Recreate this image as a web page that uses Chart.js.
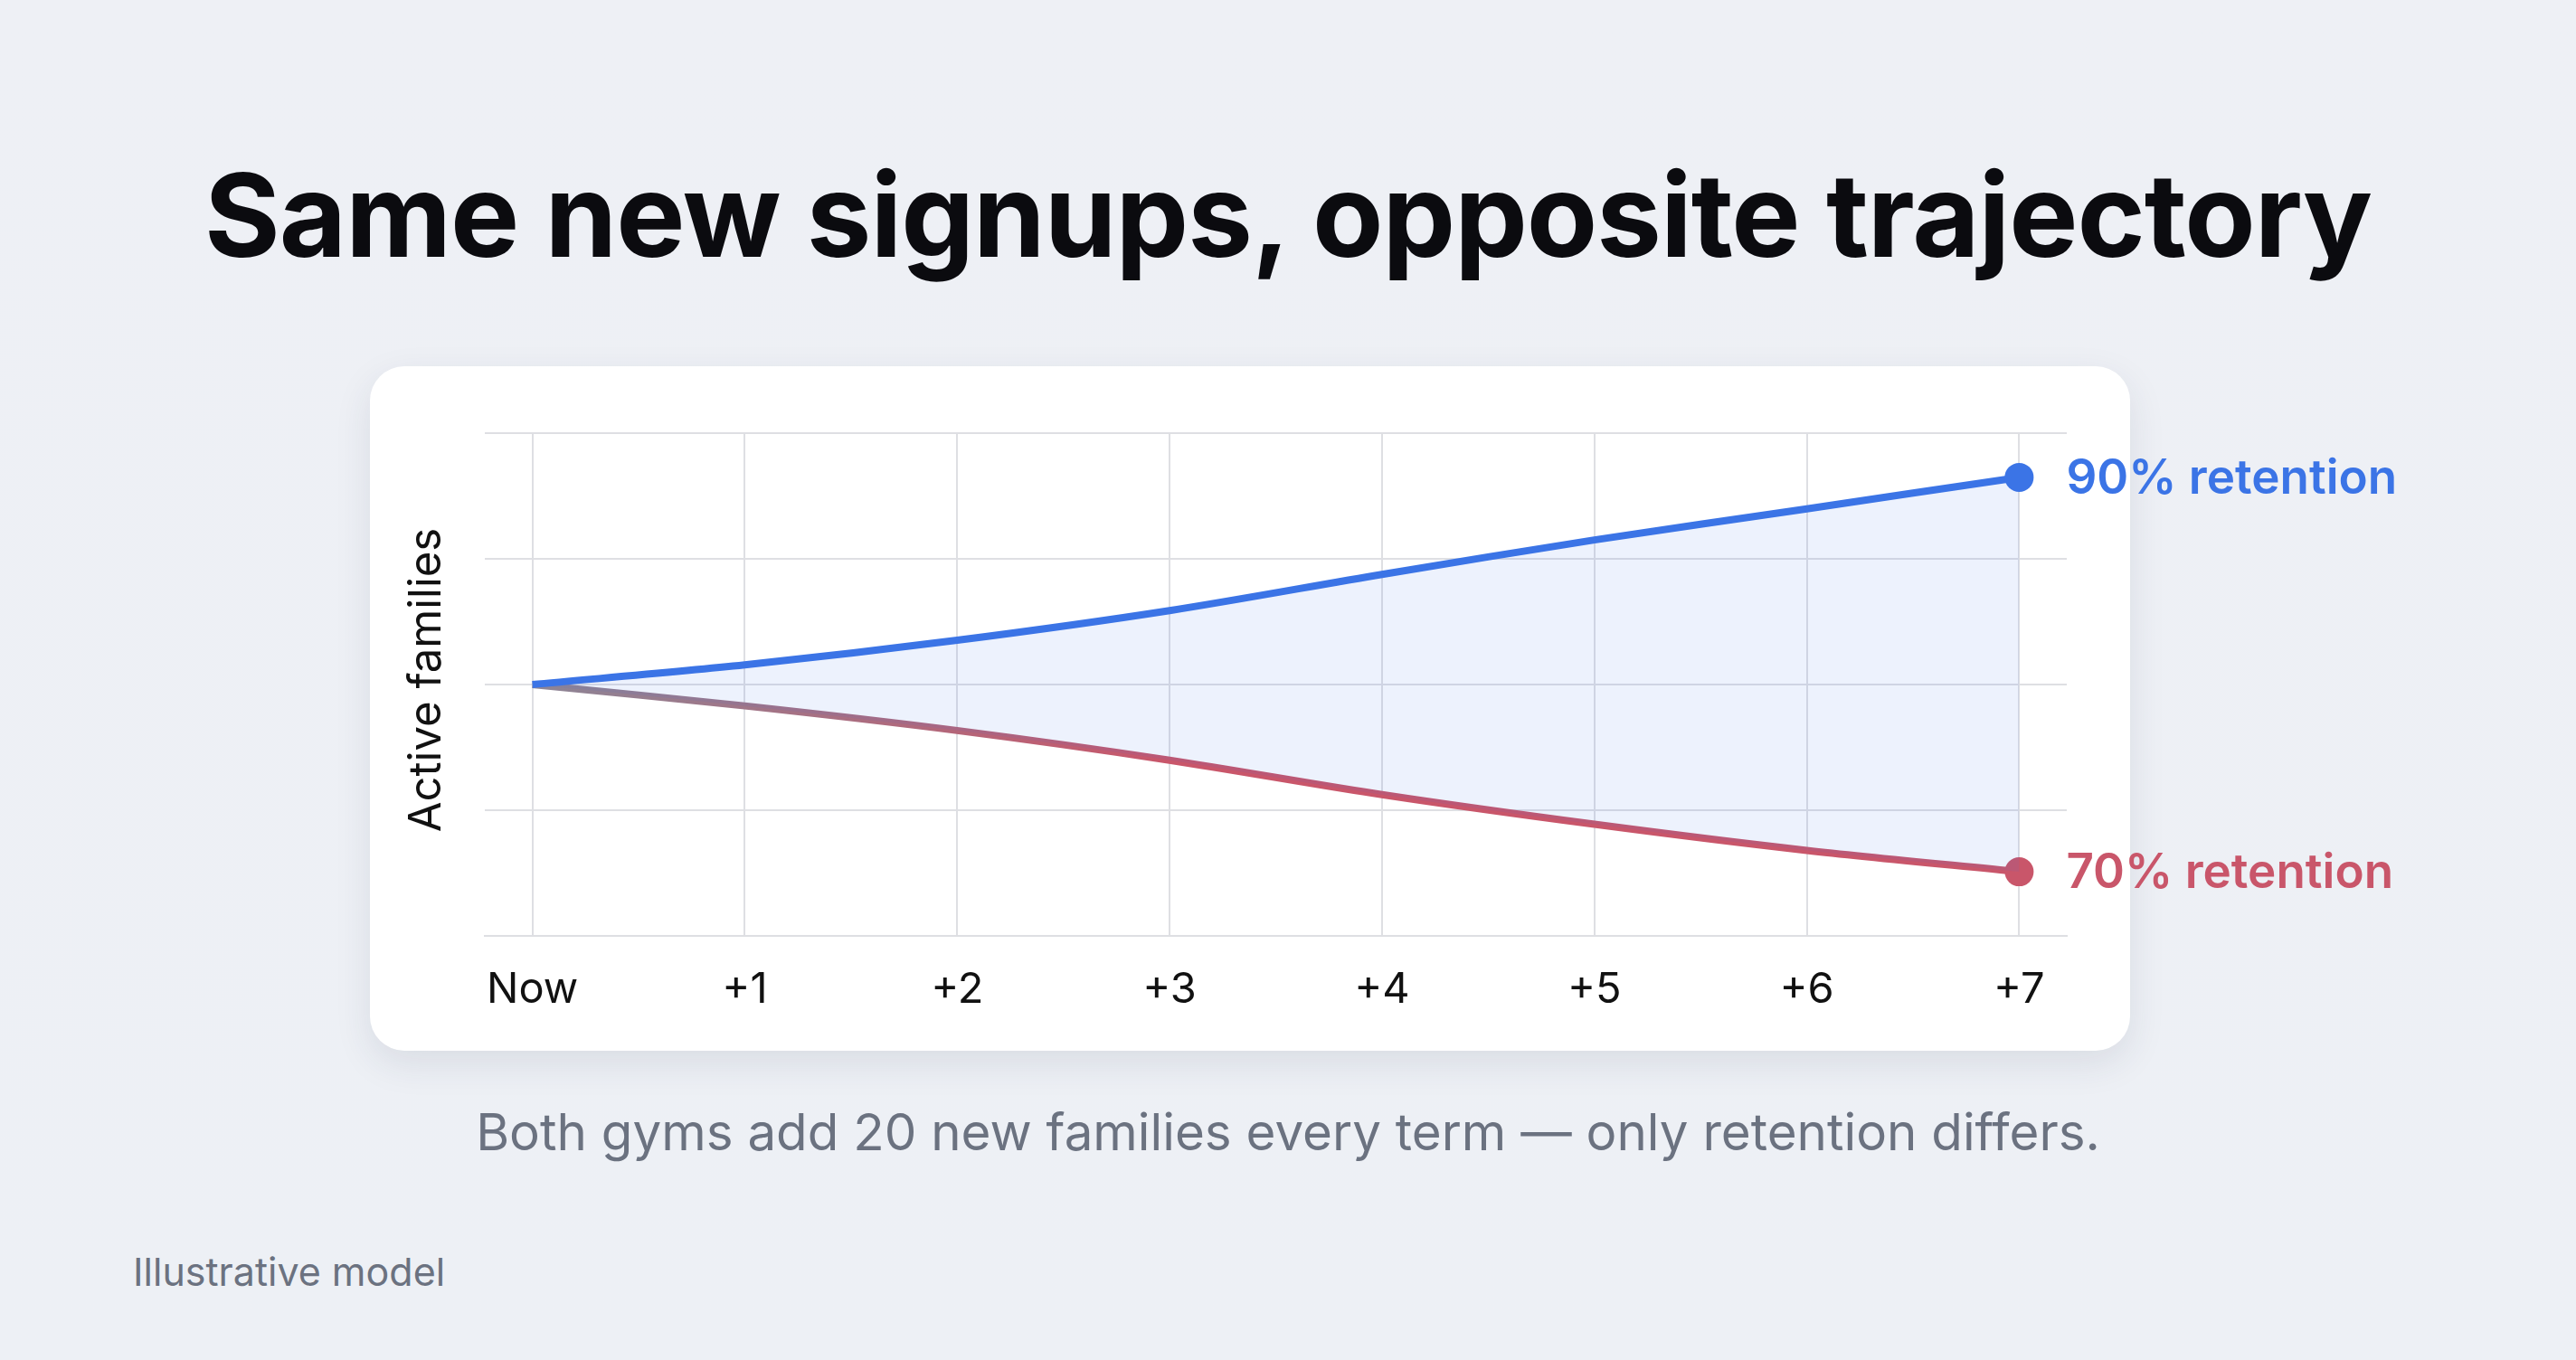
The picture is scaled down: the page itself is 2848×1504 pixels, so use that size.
<!DOCTYPE html>
<html><head><meta charset="utf-8">
<script src="https://cdn.jsdelivr.net/npm/chart.js@4/dist/chart.umd.min.js"></script>
<style>
html,body{margin:0;padding:0;width:2848px;height:1504px;overflow:hidden;font-family:Inter,"Noto Sans",sans-serif;}
body{background:linear-gradient(180deg,#eef0f5 0%,#edf0f5 100%);position:relative;}
#title{position:absolute;top:160px;left:0;width:2848px;text-align:center;font-size:128px;font-weight:700;color:#0b0b0f;letter-spacing:-1px;}
#card{position:absolute;left:409px;top:405px;width:1946px;height:757px;background:#fff;border-radius:38px;box-shadow:0 14px 40px rgba(40,50,80,0.10);}
#ytitle{position:absolute;left:469px;top:752px;transform:translate(-50%,-50%) rotate(-90deg);font-size:49px;color:#111;white-space:nowrap;}
#sub{position:absolute;top:1217px;left:0;width:2848px;text-align:center;font-size:56.5px;color:#6b7280;}
#foot{position:absolute;left:147px;top:1380px;font-size:43px;color:#6b7280;}
#c{position:absolute;left:0;top:0;}
</style></head><body>
<div id="title">Same new signups, opposite trajectory</div>
<div id="card"></div>
<div id="ytitle">Active families</div>
<div id="sub">Both gyms add 20 new families every term — only retention differs.</div>
<div id="foot">Illustrative model</div>
<canvas id="c" width="2848" height="1504"></canvas>
<script>
const xLabels = ["Now","+1","+2","+3","+4","+5","+6","+7"];
const retention90 = [100,107.8,117.6,129.4,143.8,157.5,169.9,182.4];
const retention70 = [100,91.5,81.7,69.9,56.2,44.4,34.0,25.5];
const seriesNames = ["90% retention","70% retention"];
const BLUE="#3b74e6", RED="#c9566a";
const pts = a => a.map((v,i)=>({x:i,y:v}));
const lastOnly = xLabels.map((_,i)=> i===xLabels.length-1 ? 16 : 0);

const endLabels = {
  id:'endLabels',
  afterDatasetsDraw(chart){
    const ctx=chart.ctx;
    ctx.save();
    ctx.font='600 53px Inter, "Noto Sans", sans-serif';
    ctx.textBaseline='middle';
    chart.data.datasets.forEach((ds,i)=>{
      const m=chart.getDatasetMeta(i).data;
      const p=m[m.length-1];
      ctx.fillStyle=i===0?BLUE:RED;
      ctx.fillText(seriesNames[i], p.x+52, p.y+2);
    });
    ctx.restore();
  }
};

new Chart(document.getElementById('c'),{
  type:'line',
  data:{datasets:[
    {data:pts(retention90),borderColor:BLUE,borderWidth:8,fill:'+1',backgroundColor:'rgba(59,116,230,0.09)',
     pointRadius:lastOnly,pointBackgroundColor:BLUE,pointBorderWidth:0,tension:0.3},
    {data:pts(retention70),borderWidth:8,fill:false,
     borderColor:(c)=>{const a=c.chart.chartArea;if(!a)return RED;const x0=c.chart.scales.x.getPixelForValue(0),x1=c.chart.scales.x.getPixelForValue(3);const g=c.chart.ctx.createLinearGradient(x0,0,x1,0);g.addColorStop(0,'#8c8596');g.addColorStop(1,RED);return g;},
     pointRadius:lastOnly,pointBackgroundColor:RED,pointBorderWidth:0,tension:0.3}
  ]},
  options:{
    responsive:false,animation:false,
    layout:{padding:{left:536,right:563,top:479,bottom:0}},
    plugins:{legend:{display:false},tooltip:{enabled:false}},
    scales:{
      x:{type:'linear',min:-0.224,max:7.224,
        afterBuildTicks:s=>{s.ticks=xLabels.map((_,i)=>({value:i}));},
        afterFit:s=>{s.height=469;},
        ticks:{callback:v=>xLabels[v],font:{size:47,family:'Inter'},color:'#111',padding:32,maxRotation:0},
        grid:{color:'#dedfe3',lineWidth:2,drawTicks:false},
        border:{display:true,color:'#dedfe3',width:2}},
      y:{min:0,max:200,ticks:{stepSize:50,display:false},
        afterFit:s=>{s.width=0;},
        grid:{color:'#dedfe3',lineWidth:2,drawTicks:false},
        border:{display:false}}
    }
  },
  plugins:[endLabels]
});
</script>
</body></html>
